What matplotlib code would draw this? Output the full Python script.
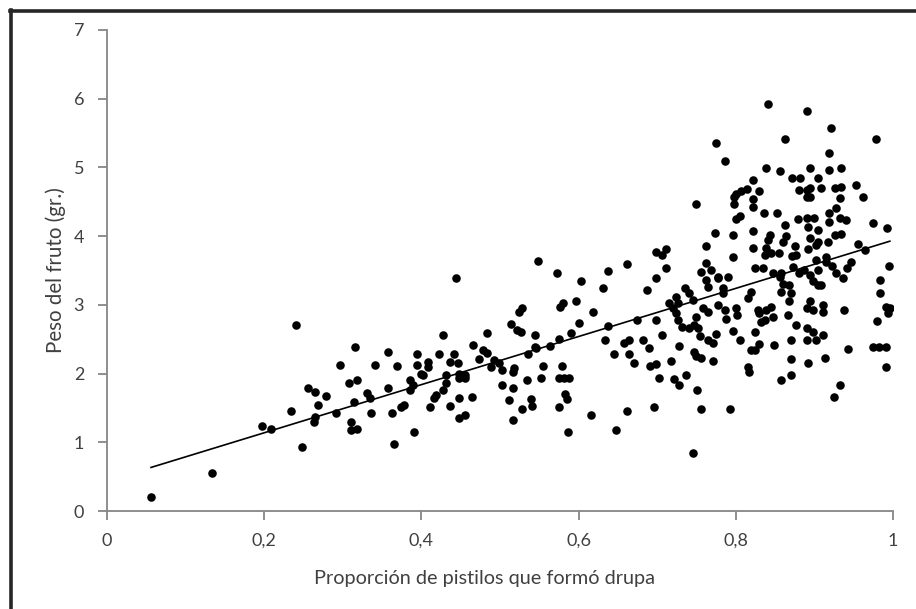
import numpy as np
import matplotlib
matplotlib.use("Agg")
import matplotlib.pyplot as plt
from matplotlib.lines import Line2D
from matplotlib.ticker import FuncFormatter

# Proporción de pistilos que formó drupa (x) y peso del fruto en gramos (y)
prop_left = [0.056, 0.133, 0.197, 0.209, 0.234, 0.241, 0.248, 0.256, 0.265, 0.263,
             0.268, 0.265, 0.278, 0.291, 0.296]
peso_left = [0.20, 0.55, 1.23, 1.20, 1.46, 2.71, 0.93, 1.79, 1.73, 1.30,
             1.54, 1.37, 1.68, 1.43, 2.13]

prop_mid1 = [0.444, 0.427, 0.484, 0.316, 0.358, 0.394, 0.422, 0.442, 0.466, 0.478,
             0.484, 0.341, 0.369, 0.394, 0.409, 0.409, 0.437, 0.447, 0.473, 0.493,
             0.499, 0.488, 0.399, 0.402, 0.431, 0.448, 0.456, 0.448, 0.456, 0.503,
             0.308, 0.318, 0.331, 0.335, 0.358, 0.385, 0.389, 0.385, 0.431, 0.427,
             0.418, 0.416, 0.502, 0.314, 0.336, 0.362, 0.374, 0.378, 0.411, 0.437,
             0.448, 0.464, 0.310, 0.310, 0.318, 0.448, 0.456, 0.391, 0.365]
peso_mid1 = [3.39, 2.56, 2.59, 2.38, 2.31, 2.28, 2.28, 2.28, 2.41, 2.34,
             2.30, 2.13, 2.11, 2.13, 2.17, 2.09, 2.17, 2.15, 2.21, 2.20,
             2.15, 2.10, 2.00, 1.98, 1.98, 2.00, 1.98, 1.93, 1.93, 2.05,
             1.86, 1.91, 1.71, 1.64, 1.79, 1.90, 1.83, 1.76, 1.86, 1.76,
             1.69, 1.64, 1.83, 1.58, 1.43, 1.43, 1.51, 1.54, 1.51, 1.53,
             1.64, 1.66, 1.29, 1.18, 1.20, 1.35, 1.39, 1.15, 0.98]

prop_mid2 = [0.548, 0.572, 0.603, 0.638, 0.662, 0.699, 0.706, 0.711, 0.711, 0.698,
             0.687, 0.631, 0.736, 0.741, 0.524, 0.528, 0.576, 0.580, 0.597, 0.618,
             0.601, 0.514, 0.522, 0.527, 0.544, 0.575, 0.590, 0.638, 0.674, 0.698,
             0.715, 0.724, 0.720, 0.726, 0.724, 0.726, 0.732, 0.741, 0.544, 0.546,
             0.563, 0.535, 0.634, 0.658, 0.664, 0.682, 0.690, 0.645, 0.664, 0.706,
             0.728, 0.518, 0.516, 0.555, 0.579, 0.671, 0.691, 0.698, 0.718, 0.517,
             0.534, 0.552, 0.575, 0.582, 0.588, 0.702, 0.722, 0.728, 0.737, 0.511,
             0.539, 0.541, 0.528, 0.583, 0.585, 0.575, 0.517, 0.616, 0.662, 0.696,
             0.587, 0.648]
peso_mid2 = [3.64, 3.47, 3.34, 3.49, 3.59, 3.77, 3.73, 3.82, 3.53, 3.39,
             3.22, 3.24, 3.24, 3.17, 2.90, 2.95, 2.97, 3.02, 3.06, 2.89,
             2.74, 2.72, 2.63, 2.61, 2.56, 2.51, 2.59, 2.69, 2.78, 2.78,
             3.02, 3.12, 2.95, 3.02, 2.88, 2.78, 2.68, 2.66, 2.39, 2.37,
             2.40, 2.28, 2.49, 2.45, 2.49, 2.49, 2.37, 2.28, 2.28, 2.56,
             2.40, 2.08, 2.03, 2.11, 2.11, 2.16, 2.11, 2.14, 2.19, 1.79,
             1.91, 1.93, 1.94, 1.94, 1.94, 1.94, 1.92, 1.83, 1.98, 1.61,
             1.63, 1.53, 1.48, 1.70, 1.63, 1.52, 1.33, 1.39, 1.46, 1.52,
             1.15, 1.18]

prop_high = [0.841, 0.863, 0.775, 0.786, 0.839, 0.856, 0.822, 0.871, 0.882, 0.880,
             0.800, 0.807, 0.814, 0.830, 0.798, 0.798, 0.822, 0.822, 0.749, 0.836,
             0.852, 0.800, 0.805, 0.879, 0.863, 0.773, 0.797, 0.822, 0.843, 0.841,
             0.864, 0.860, 0.762, 0.822, 0.839, 0.837, 0.845, 0.855, 0.875, 0.877,
             0.871, 0.797, 0.762, 0.756, 0.768, 0.824, 0.834, 0.847, 0.858, 0.777,
             0.790, 0.873, 0.881]
peso_high = [5.92, 5.42, 5.35, 5.10, 4.99, 4.95, 4.82, 4.84, 4.84, 4.67,
             4.62, 4.66, 4.68, 4.65, 4.57, 4.47, 4.54, 4.42, 4.47, 4.34,
             4.34, 4.25, 4.29, 4.25, 4.16, 4.04, 4.02, 4.07, 4.02, 3.95,
             4.00, 3.92, 3.85, 3.83, 3.83, 3.73, 3.75, 3.76, 3.85, 3.73,
             3.71, 3.70, 3.61, 3.48, 3.51, 3.53, 3.53, 3.46, 3.46, 3.41,
             3.41, 3.55, 3.46]

prop_low = [0.762, 0.764, 0.777, 0.784, 0.784, 0.856, 0.860, 0.858, 0.868, 0.870,
            0.815, 0.819, 0.868, 0.745, 0.758, 0.764, 0.777, 0.786, 0.800, 0.802,
            0.788, 0.749, 0.747, 0.752, 0.828, 0.830, 0.839, 0.845, 0.847, 0.837,
            0.832, 0.866, 0.877, 0.796, 0.805, 0.825, 0.754, 0.764, 0.771, 0.775,
            0.830, 0.849, 0.870, 0.819, 0.824, 0.747, 0.749, 0.756, 0.771, 0.870,
            0.815, 0.817, 0.858, 0.870, 0.751, 0.756, 0.792, 0.745]
peso_low = [3.36, 3.26, 3.39, 3.24, 3.17, 3.41, 3.31, 3.19, 3.29, 3.17,
            3.10, 3.19, 3.06, 3.07, 2.96, 2.90, 3.00, 2.93, 2.95, 2.85,
            2.80, 2.83, 2.71, 2.66, 2.93, 2.88, 2.93, 2.97, 2.83, 2.78,
            2.75, 2.85, 2.71, 2.62, 2.49, 2.61, 2.54, 2.49, 2.44, 2.58,
            2.43, 2.42, 2.49, 2.34, 2.34, 2.32, 2.25, 2.22, 2.19, 2.21,
            2.10, 2.03, 1.91, 1.98, 1.76, 1.48, 1.48, 0.84]

prop_top = [0.890, 0.921, 0.978, 0.918, 0.894, 0.918, 0.934, 0.904, 0.953, 0.890,
            0.894, 0.894, 0.890, 0.909, 0.926, 0.934, 0.932, 0.962, 0.928, 0.919,
            0.919, 0.890, 0.900, 0.892, 0.905, 0.894, 0.905, 0.902, 0.932, 0.940,
            0.926, 0.934, 0.917, 0.892, 0.974, 0.992, 0.956, 0.964, 0.902, 0.915,
            0.915, 0.923, 0.947, 0.941, 0.995]
peso_top = [5.82, 5.57, 5.42, 5.21, 4.99, 4.96, 4.99, 4.84, 4.75, 4.67,
            4.70, 4.57, 4.57, 4.70, 4.70, 4.72, 4.55, 4.57, 4.41, 4.34,
            4.21, 4.26, 4.26, 4.14, 4.09, 3.97, 3.92, 3.87, 4.26, 4.24,
            4.02, 4.03, 3.91, 3.81, 4.19, 4.12, 3.89, 3.80, 3.66, 3.70,
            3.63, 3.56, 3.62, 3.53, 3.57]

prop_right = [0.904, 0.928, 0.936, 0.887, 0.894, 0.898, 0.904, 0.908, 0.984, 0.984,
              0.991, 0.996, 0.994, 0.894, 0.890, 0.898, 0.911, 0.911, 0.938, 0.980,
              0.890, 0.898, 0.902, 0.890, 0.911, 0.943, 0.974, 0.982, 0.991, 0.892,
              0.914, 0.991, 0.932, 0.925]
peso_right = [3.51, 3.46, 3.39, 3.51, 3.44, 3.34, 3.29, 3.29, 3.36, 3.17,
              2.97, 2.95, 2.88, 3.05, 2.95, 2.93, 3.00, 2.90, 2.92, 2.77,
              2.66, 2.61, 2.49, 2.49, 2.56, 2.36, 2.38, 2.38, 2.38, 2.16,
              2.23, 2.09, 1.83, 1.66]

x_ticks = [0, 0.2, 0.4, 0.6, 0.8, 1.0]
y_ticks = [0, 1, 2, 3, 4, 5, 6, 7]

x = np.array(prop_left + prop_mid1 + prop_mid2 + prop_high + prop_low + prop_top + prop_right)
y = np.array(peso_left + peso_mid1 + peso_mid2 + peso_high + peso_low + peso_top + peso_right)

plt.rcParams['font.family'] = ['Lato', 'DejaVu Sans']

W, H = 916, 609
fig = plt.figure(figsize=(W / 100, H / 100), dpi=100)
ax = fig.add_axes([107 / W, (H - 511) / H, (893 - 107) / W, (511 - 30) / H])

ax.scatter(x, y, s=38, color='black', linewidths=0, zorder=3)

# linear trend line over the range of the data
slope, intercept = np.polyfit(x, y, 1)
xs = np.array([x.min(), x.max()])
ax.plot(xs, slope * xs + intercept, color='black', lw=1.2, zorder=4)

ax.set_xlim(0, 1)
ax.set_ylim(0, 7)
ax.set_xticks(x_ticks)
ax.set_yticks(y_ticks)
ax.xaxis.set_major_formatter(FuncFormatter(lambda v, p: f"{v:g}".replace('.', ',')))
ax.yaxis.set_major_formatter(FuncFormatter(lambda v, p: f"{v:g}"))

axis_gray = '#868686'
for side in ('top', 'right'):
    ax.spines[side].set_visible(False)
for side in ('left', 'bottom'):
    ax.spines[side].set_color(axis_gray)
    ax.spines[side].set_linewidth(1.3)
ax.tick_params(axis='both', direction='out', length=6.5, width=1.3, color=axis_gray,
               labelsize=13, labelcolor='#404040')
ax.tick_params(axis='x', pad=9)
ax.tick_params(axis='y', pad=10)

ax.set_xlabel('Proporción de pistilos que formó drupa', fontsize=14.3, color='#404040')
ax.set_ylabel('Peso del fruto (gr.)', fontsize=14.8, color='#404040')
ax.xaxis.set_label_coords(0.48, -0.122)
ax.yaxis.set_label_coords(-0.052, 0.5)

# chart frame
fig.add_artist(Line2D([10.5 / W, 10.5 / W], [0, 1 - 10 / H], transform=fig.transFigure,
                      color='#262626', lw=2.6))
fig.add_artist(Line2D([10 / W, 1], [1 - 10.5 / H, 1 - 10.5 / H], transform=fig.transFigure,
                      color='#262626', lw=2.6))

fig.savefig('out.png', dpi=100, facecolor='white')
